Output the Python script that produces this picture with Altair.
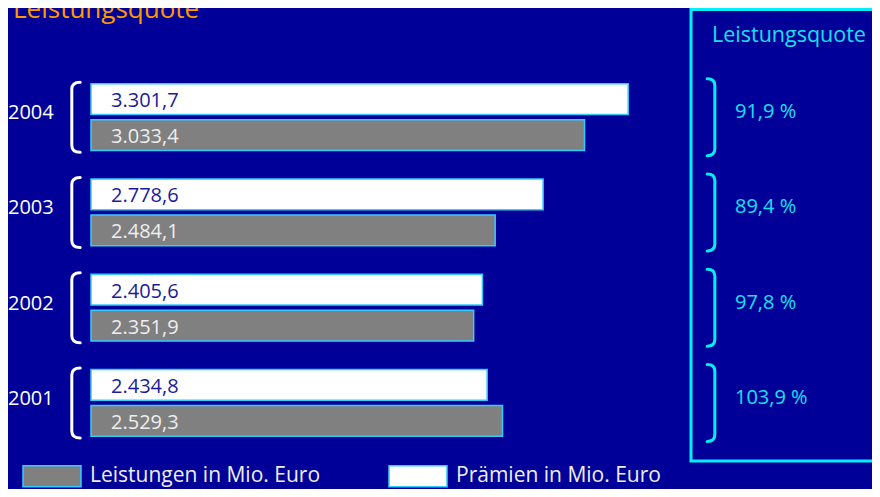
import altair as alt
import pandas as pd

# ---- data ----
years = ["2004", "2003", "2002", "2001"]
praemien = [3301.7, 2778.6, 2405.6, 2434.8]
leistungen = [3033.4, 2484.1, 2351.9, 2529.3]
quote = [91.9, 89.4, 97.8, 103.9]
series = ["Leistungen in Mio. Euro", "Prämien in Mio. Euro"]
title_left = "Leistungsquote"
title_box = "Leistungsquote"


def de(v, d=1):
    s = f"{v:,.{d}f}"
    return s.replace(",", "X").replace(".", ",").replace("X", ".")


rows = []
for y, p, l in zip(years, praemien, leistungen):
    rows.append({"year": y, "series": series[1], "value": p, "label": de(p)})
    rows.append({"year": y, "series": series[0], "value": l, "label": de(l)})
bars_df = pd.DataFrame(rows)
years_df = pd.DataFrame({"year": years, "quote": [de(q) + " %" for q in quote]})
one = pd.DataFrame({"k": [0]})

# ---- style ----
BG = "#000099"
FONT = "Open Sans"
CYAN = "#00f0ff"
CYAN_TXT = "#18e0f0"
BAR_STROKE = "#33ccff"
W, H = 864, 481

x_scale = alt.Scale(domain=[0, 3500], range=[83, 83 + 3500 * 0.1627])
y_scale = alt.Scale(domain=years, range=[61.5, 442.5], paddingInner=0, paddingOuter=0)
yoff_scale = alt.Scale(domain=[series[1], series[0]], paddingInner=0.147, paddingOuter=0.397)

LB = "M0.12,-1Q-0.12,-1,-0.12,-0.8L-0.12,0.8Q-0.12,1,0.12,1"
RB = "M-0.1,-1Q0.1,-1,0.1,-0.82L0.1,0.82Q0.1,1,-0.1,1"

box = alt.Chart(one).mark_rect(fillOpacity=0, stroke=CYAN, strokeWidth=3).encode(
    x=alt.value(683), x2=alt.value(872), y=alt.value(1.5), y2=alt.value(453)
)

bars = alt.Chart(bars_df).mark_bar(stroke=BAR_STROKE, strokeWidth=1.5).encode(
    x=alt.X("value:Q", scale=x_scale, axis=None),
    y=alt.Y("year:N", scale=y_scale, axis=None),
    yOffset=alt.YOffset("series:N", scale=yoff_scale),
    color=alt.Color(
        "series:N",
        scale=alt.Scale(domain=series, range=["#808080", "#ffffff"]),
        legend=alt.Legend(
            title=None, orient="none", legendX=14, legendY=438, direction="horizontal",
            symbolType="M-1,-0.362H1V0.362H-1Z", symbolSize=3364,
            symbolStrokeColor=BAR_STROKE, symbolStrokeWidth=1.5,
            labelFont=FONT, labelFontSize=21, labelColor="#eeeeee",
            labelOffset=8, columnPadding=65, padding=0, labelLimit=400,
        ),
    ),
)

labels = alt.Chart(bars_df).mark_text(
    align="left", baseline="middle", dx=20, dy=2, font=FONT, fontSize=20
).encode(
    x=alt.datum(0),
    y=alt.Y("year:N", scale=y_scale, axis=None),
    yOffset=alt.YOffset("series:N", scale=yoff_scale),
    text="label:N",
    color=alt.condition(alt.datum.series == series[1], alt.value("#1a1a9a"), alt.value("#eeeeee")),
)

year_txt = alt.Chart(years_df).mark_text(
    align="left", baseline="middle", dy=-4, font=FONT, fontSize=20, color="#ffffff"
).encode(x=alt.value(0), y=alt.Y("year:N", scale=y_scale, axis=None), text="year:N")

lbr = alt.Chart(years_df).mark_point(
    shape=LB, filled=False, stroke="#ffffff", strokeWidth=3, size=4900, opacity=1, strokeCap="round"
).encode(x=alt.value(68), y=alt.Y("year:N", scale=y_scale, axis=None))

rbr = alt.Chart(years_df).mark_point(
    shape=RB, filled=False, stroke=CYAN, strokeWidth=3, size=5929, opacity=1, strokeCap="round"
).encode(x=alt.value(703), y=alt.Y("year:N", scale=y_scale, axis=None))

pct = alt.Chart(years_df).mark_text(
    align="left", baseline="middle", dy=-5, font=FONT, fontSize=20, color=CYAN_TXT
).encode(x=alt.value(727), y=alt.Y("year:N", scale=y_scale, axis=None), text="quote:N")

t_left = alt.Chart(one).mark_text(
    text=title_left, align="left", baseline="alphabetic", font=FONT, fontSize=26, color="#ff9900"
).encode(x=alt.value(5), y=alt.value(10))

t_box = alt.Chart(one).mark_text(
    text=title_box, align="left", baseline="alphabetic", font=FONT, fontSize=21.5, color=CYAN_TXT
).encode(x=alt.value(704), y=alt.value(34))

chart = alt.layer(
    box, bars, labels, year_txt, lbr, rbr, pct, t_left, t_box
).properties(
    width=W, height=H, background=BG, padding=0,
    autosize=alt.AutoSizeParams(type="none"),
).configure_view(stroke=None)

chart.save("out.html", embed_options={"renderer": "svg", "actions": False})
